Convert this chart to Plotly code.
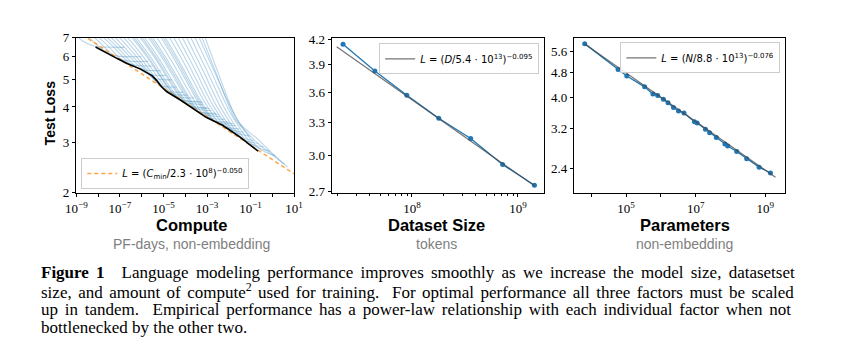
import math
import plotly.graph_objects as go

W, H = 844, 356

# ---------------- Panel 1: Compute ----------------
compute_tickvals = [1e-9, 1e-8, 1e-7, 1e-6, 1e-5, 1e-4, 1e-3, 1e-2, 1e-1, 1e0, 1e1]
compute_ticktext = ["10<sup>−9</sup>", "", "10<sup>−7</sup>", "", "10<sup>−5</sup>", "",
                    "10<sup>−3</sup>", "", "10<sup>−1</sup>", "", "10<sup>1</sup>"]
loss1_ticks = [2, 3, 4, 5, 6, 7]

# black frontier (log10 PF-days, loss)
frontier_log10c = [-8.12, -7.55, -7.10, -6.65, -6.05, -5.53, -5.31, -5.09, -4.86, -4.26,
                   -3.85, -3.04, -2.29, -1.50, -0.79, -0.65]
frontier_loss = [6.49, 6.14, 5.90, 5.67, 5.43, 5.15, 4.95, 4.71, 4.53, 4.25,
                 4.05, 3.68, 3.45, 3.14, 2.85, 2.80]

# individual learning curves (log10 PF-days, loss)
learning_curves = [
    [(-9.05, 7.2), (-8.7, 6.8), (-8.1, 6.52), (-7.6, 6.49), (-6.8, 6.47)],
    [(-8.75, 7.4), (-8.2, 6.75), (-7.6, 6.2), (-7.1, 6.03), (-6.0, 6.0)],
    [(-8.5, 7.4), (-7.9, 6.7), (-7.2, 5.98), (-6.6, 5.80), (-5.7, 5.78)],
    [(-8.3, 7.4), (-7.6, 6.6), (-6.9, 5.84), (-6.3, 5.60), (-5.5, 5.57)],
    [(-8.1, 7.4), (-7.3, 6.5), (-6.5, 5.64), (-5.9, 5.40), (-5.1, 5.36)],
    [(-7.9, 7.4), (-7.1, 6.45), (-6.2, 5.48), (-5.6, 5.20), (-4.9, 5.16)],
    [(-7.7, 7.4), (-6.9, 6.4), (-5.9, 5.36), (-5.4, 5.03), (-4.6, 4.98)],
    [(-7.5, 7.4), (-6.7, 6.35), (-5.7, 5.25), (-5.15, 4.76), (-4.4, 4.70)],
    [(-7.3, 7.4), (-6.4, 6.2), (-5.5, 5.1), (-4.9, 4.57), (-4.1, 4.50)],
    [(-7.1, 7.4), (-6.2, 6.15), (-5.3, 4.98), (-4.7, 4.47), (-3.9, 4.40)],
    [(-6.9, 7.4), (-6.0, 6.1), (-5.1, 4.9), (-4.5, 4.38), (-3.6, 4.30)],
    [(-6.7, 7.4), (-5.8, 6.05), (-4.9, 4.8), (-4.3, 4.27), (-3.4, 4.18)],
    [(-6.6, 7.4), (-5.7, 6.0), (-4.85, 4.78), (-4.25, 4.25), (-3.2, 4.16)],
    [(-6.5, 7.4), (-5.6, 6.0), (-4.7, 4.7), (-4.1, 4.17), (-3.2, 4.08)],
    [(-6.3, 7.4), (-5.4, 5.95), (-4.5, 4.62), (-3.9, 4.07), (-3.0, 3.98)],
    [(-6.2, 7.4), (-5.3, 5.9), (-4.4, 4.58), (-3.8, 4.02), (-2.9, 3.95)],
    [(-6.1, 7.4), (-5.2, 5.9), (-4.3, 4.55), (-3.7, 3.98), (-2.8, 3.88)],
    [(-5.9, 7.4), (-5.0, 5.85), (-4.1, 4.48), (-3.5, 3.89), (-2.6, 3.80)],
    [(-5.8, 7.4), (-4.9, 5.82), (-4.0, 4.45), (-3.4, 3.85), (-2.5, 3.77)],
    [(-5.7, 7.4), (-4.8, 5.8), (-3.9, 4.42), (-3.3, 3.80), (-2.4, 3.70)],
    [(-5.5, 7.4), (-4.6, 5.75), (-3.7, 4.35), (-3.1, 3.71), (-2.2, 3.62)],
    [(-5.3, 7.4), (-4.4, 5.7), (-3.5, 4.28), (-2.85, 3.62), (-2.0, 3.54)],
    [(-5.2, 7.4), (-4.3, 5.68), (-3.4, 4.25), (-2.7, 3.58), (-1.8, 3.50)],
    [(-5.1, 7.4), (-4.2, 5.65), (-3.3, 4.22), (-2.6, 3.54), (-1.7, 3.44)],
    [(-4.9, 7.4), (-4.0, 5.6), (-3.1, 4.15), (-2.35, 3.46), (-1.5, 3.35)],
    [(-4.7, 7.4), (-3.8, 5.55), (-2.9, 4.08), (-2.1, 3.39), (-1.3, 3.26)],
    [(-4.5, 7.4), (-3.6, 5.5), (-2.7, 4.02), (-1.85, 3.30), (-1.05, 3.16)],
    [(-4.3, 7.4), (-3.4, 5.45), (-2.5, 3.95), (-1.6, 3.18), (-0.85, 3.05)],
    [(-4.1, 7.4), (-3.2, 5.4), (-2.3, 3.9), (-1.35, 3.09), (-0.65, 2.98)],
    [(-3.9, 7.4), (-3.0, 5.35), (-2.1, 3.84), (-1.1, 3.00), (-0.4, 2.90)],
    [(-3.7, 7.4), (-2.8, 5.3), (-1.9, 3.78), (-0.85, 2.93), (-0.1, 2.80)],
    [(-3.5, 7.4), (-2.6, 5.2), (-1.7, 3.72), (-0.6, 2.86), (0.15, 2.70)],
    [(-3.35, 7.4), (-2.6, 5.3), (-1.7, 3.62), (-0.8, 3.05), (0.0, 2.72), (0.55, 2.52)],
    [(-3.2, 7.4), (-2.5, 5.3), (-1.55, 3.54), (-0.66, 3.08), (0.0, 2.75), (0.69, 2.46)],
]

fit_compute = [1e-9, 1e1]
fit_compute_loss = [7.39, 2.33]

# ---------------- Panel 2: Dataset size ----------------
dataset_tokens = [2.24e7, 4.47e7, 8.95e7, 1.79e8, 3.58e8, 7.16e8, 1.43e9]
dataset_loss = [4.14, 3.83, 3.57, 3.34, 3.15, 2.92, 2.75]
fit_tokens = [1.95e7, 1.43e9]
fit_tokens_loss = [4.11, 2.745]
tokens_tickvals = [1e8, 1e9]
tokens_ticktext = ["10<sup>8</sup>", "10<sup>9</sup>"]
loss2_ticks = [2.7, 3.0, 3.3, 3.6, 3.9, 4.2]
loss2_ticktext = ["2.7", "3.0", "3.3", "3.6", "3.9", "4.2"]

# ---------------- Panel 3: Parameters ----------------
params = [6.5e3, 5.9e4, 1.05e5, 3.4e5, 5.9e5, 8.1e5, 1.18e6, 1.6e6, 2.3e6, 3.2e6, 4.6e6,
          9.2e6, 1.1e7, 1.9e7, 2.5e7, 3.9e7, 6.9e7, 8.3e7, 1.5e8, 2.9e8, 6.6e8, 1.4e9]
params_loss = [5.91, 4.91, 4.68, 4.33, 4.11, 4.07, 3.96, 3.86, 3.73, 3.64, 3.59,
               3.37, 3.34, 3.19, 3.11, 3.01, 2.87, 2.83, 2.72, 2.58, 2.43, 2.33]
fit_params = [6.5e3, 1.95e9]
fit_params_loss = [5.89, 2.26]
params_tickvals = [1e4, 1e5, 1e6, 1e7, 1e8, 1e9]
params_ticktext = ["", "10<sup>5</sup>", "", "10<sup>7</sup>", "", "10<sup>9</sup>"]
loss3_ticks = [2.4, 3.2, 4.0, 4.8, 5.6]
loss3_ticktext = ["2.4", "3.2", "4.0", "4.8", "5.6"]

caption_lines = [
    "<b>Figure 1</b>\u2003Language modeling performance improves smoothly as we increase the model size, datasetset",
    "size, and amount of compute<sup>2</sup> used for training.  For optimal performance all three factors must be scaled",
    "up in tandem.  Empirical performance has a power-law relationship with each individual factor when not",
    "bottlenecked by the other two.",
]
caption_word_spacing = [3.0, 2.2, 2.5, 0.0]

# ---------------- figure ----------------
BLUE = "#1f77b4"
fig = go.Figure()

for crv in learning_curves:
    fig.add_trace(go.Scatter(
        x=[10 ** a for a, _ in crv], y=[b for _, b in crv], mode="lines",
        line=dict(color="rgba(31,119,180,0.30)", width=1.1, shape="spline", smoothing=0.8),
        showlegend=False, hoverinfo="skip", xaxis="x", yaxis="y"))

fig.add_trace(go.Scatter(
    x=fit_compute, y=fit_compute_loss, mode="lines",
    line=dict(color="rgba(255,150,40,0.85)", width=1.5, dash="4px,3px"),
    name="<i>L</i> = (<i>C</i><sub>min</sub>/2.3 · 10<sup>8</sup>)<sup>−0.050</sup>",
    legend="legend", xaxis="x", yaxis="y"))

fig.add_trace(go.Scatter(
    x=[10 ** a for a in frontier_log10c], y=frontier_loss, mode="lines",
    line=dict(color="black", width=1.6), showlegend=False, xaxis="x", yaxis="y"))

fig.add_trace(go.Scatter(
    x=dataset_tokens, y=dataset_loss, mode="lines+markers",
    line=dict(color=BLUE, width=1.3), marker=dict(size=5, color=BLUE),
    showlegend=False, xaxis="x2", yaxis="y2"))
fig.add_trace(go.Scatter(
    x=fit_tokens, y=fit_tokens_loss, mode="lines",
    line=dict(color="rgba(70,70,70,0.75)", width=1.2),
    name="<i>L</i> = (<i>D</i>/5.4 · 10<sup>13</sup>)<sup>−0.095</sup>",
    legend="legend2", xaxis="x2", yaxis="y2"))

fig.add_trace(go.Scatter(
    x=params, y=params_loss, mode="lines+markers",
    line=dict(color=BLUE, width=1.3), marker=dict(size=5, color=BLUE),
    showlegend=False, xaxis="x3", yaxis="y3"))
fig.add_trace(go.Scatter(
    x=fit_params, y=fit_params_loss, mode="lines",
    line=dict(color="rgba(70,70,70,0.75)", width=1.2),
    name="<i>L</i> = (<i>N</i>/8.8 · 10<sup>13</sup>)<sup>−0.076</sup>",
    legend="legend3", xaxis="x3", yaxis="y3"))


def px(v):
    return v / W


def py(v):
    return 1 - v / H


TOP, BOT = 32, 194
tickfont = dict(family="Liberation Serif", size=13, color="black")
common = dict(showline=True, linecolor="black", linewidth=1.2, mirror=True,
              ticks="outside", ticklen=3.5, tickwidth=1, tickcolor="black",
              showgrid=False, zeroline=False, tickfont=tickfont, type="log")

minor2 = [k * 10 ** e for e in (7, 8) for k in range(2, 10)] + [2e9]

legend_style = dict(bgcolor="rgba(255,255,255,0.85)", bordercolor="#cccccc", borderwidth=1,
                    font=dict(family="DejaVu Sans", size=10, color="black"),
                    itemwidth=30, tracegroupgap=0)

fig.update_layout(
    width=W, height=H, margin=dict(l=0, r=0, t=0, b=0),
    paper_bgcolor="white", plot_bgcolor="white",
    xaxis=dict(domain=[px(67), px(290)], range=[-9, 1], anchor="y",
               tickvals=compute_tickvals, ticktext=compute_ticktext, **common),
    yaxis=dict(domain=[py(BOT), py(TOP)], range=[math.log10(2), math.log10(7)], anchor="x",
               tickvals=loss1_ticks, ticktext=[str(t) for t in loss1_ticks], **common),
    xaxis2=dict(domain=[px(329), px(546)], range=[7.248, 9.246], anchor="y2",
                tickvals=tokens_tickvals, ticktext=tokens_ticktext,
                minor=dict(tickvals=minor2, ticks="outside", ticklen=2, tickcolor="black"),
                **common),
    yaxis2=dict(domain=[py(BOT), py(TOP)], range=[math.log10(2.69), math.log10(4.22)],
                anchor="x2", tickvals=loss2_ticks, ticktext=loss2_ticktext, **common),
    xaxis3=dict(domain=[px(577), px(793)], range=[3.515, 9.569], anchor="y3",
                tickvals=params_tickvals, ticktext=params_ticktext, **common),
    yaxis3=dict(domain=[py(BOT), py(TOP)], range=[math.log10(2.02), math.log10(6.17)],
                anchor="x3", tickvals=loss3_ticks, ticktext=loss3_ticktext, **common),
    legend=dict(x=px(72), y=py(190), xanchor="left", yanchor="bottom", **legend_style),
    legend2=dict(x=px(541), y=py(38), xanchor="right", yanchor="top", **legend_style),
    legend3=dict(x=px(788), y=py(37), xanchor="right", yanchor="top", **legend_style),
)

ann = []
titles = [("Compute", "PF-days, non-embedding", 185),
          ("Dataset Size", "tokens", 436),
          ("Parameters", "non-embedding", 690)]
for t, s, cx in titles:
    ann.append(dict(text=f"<b>{t}</b>", x=px(cx), y=py(228), xref="paper", yref="paper",
                    showarrow=False, xanchor="center", yanchor="middle",
                    font=dict(family="Liberation Sans", size=16.5, color="black")))
    ann.append(dict(text=s, x=px(cx), y=py(247), xref="paper", yref="paper",
                    showarrow=False, xanchor="center", yanchor="middle",
                    font=dict(family="Liberation Sans", size=14, color="#808080")))
ann.append(dict(text="<b>Test Loss</b>", x=px(40), y=py(111), xref="paper", yref="paper",
                showarrow=False, textangle=-90, xanchor="center", yanchor="middle",
                font=dict(family="Liberation Sans", size=14, color="black")))
for i, (line, ws) in enumerate(zip(caption_lines, caption_word_spacing)):
    ann.append(dict(text=f'<span style="word-spacing:{ws}px">{line}</span>',
                    x=px(29), y=py(277.5 + 19.2 * i), xref="paper", yref="paper",
                    showarrow=False, xanchor="left", yanchor="middle",
                    font=dict(family="Liberation Serif", size=17, color="black")))
fig.update_layout(annotations=ann)

fig.write_html("out.html", config={"displayModeBar": False},
               post_script="document.body.style.margin='0px';")
